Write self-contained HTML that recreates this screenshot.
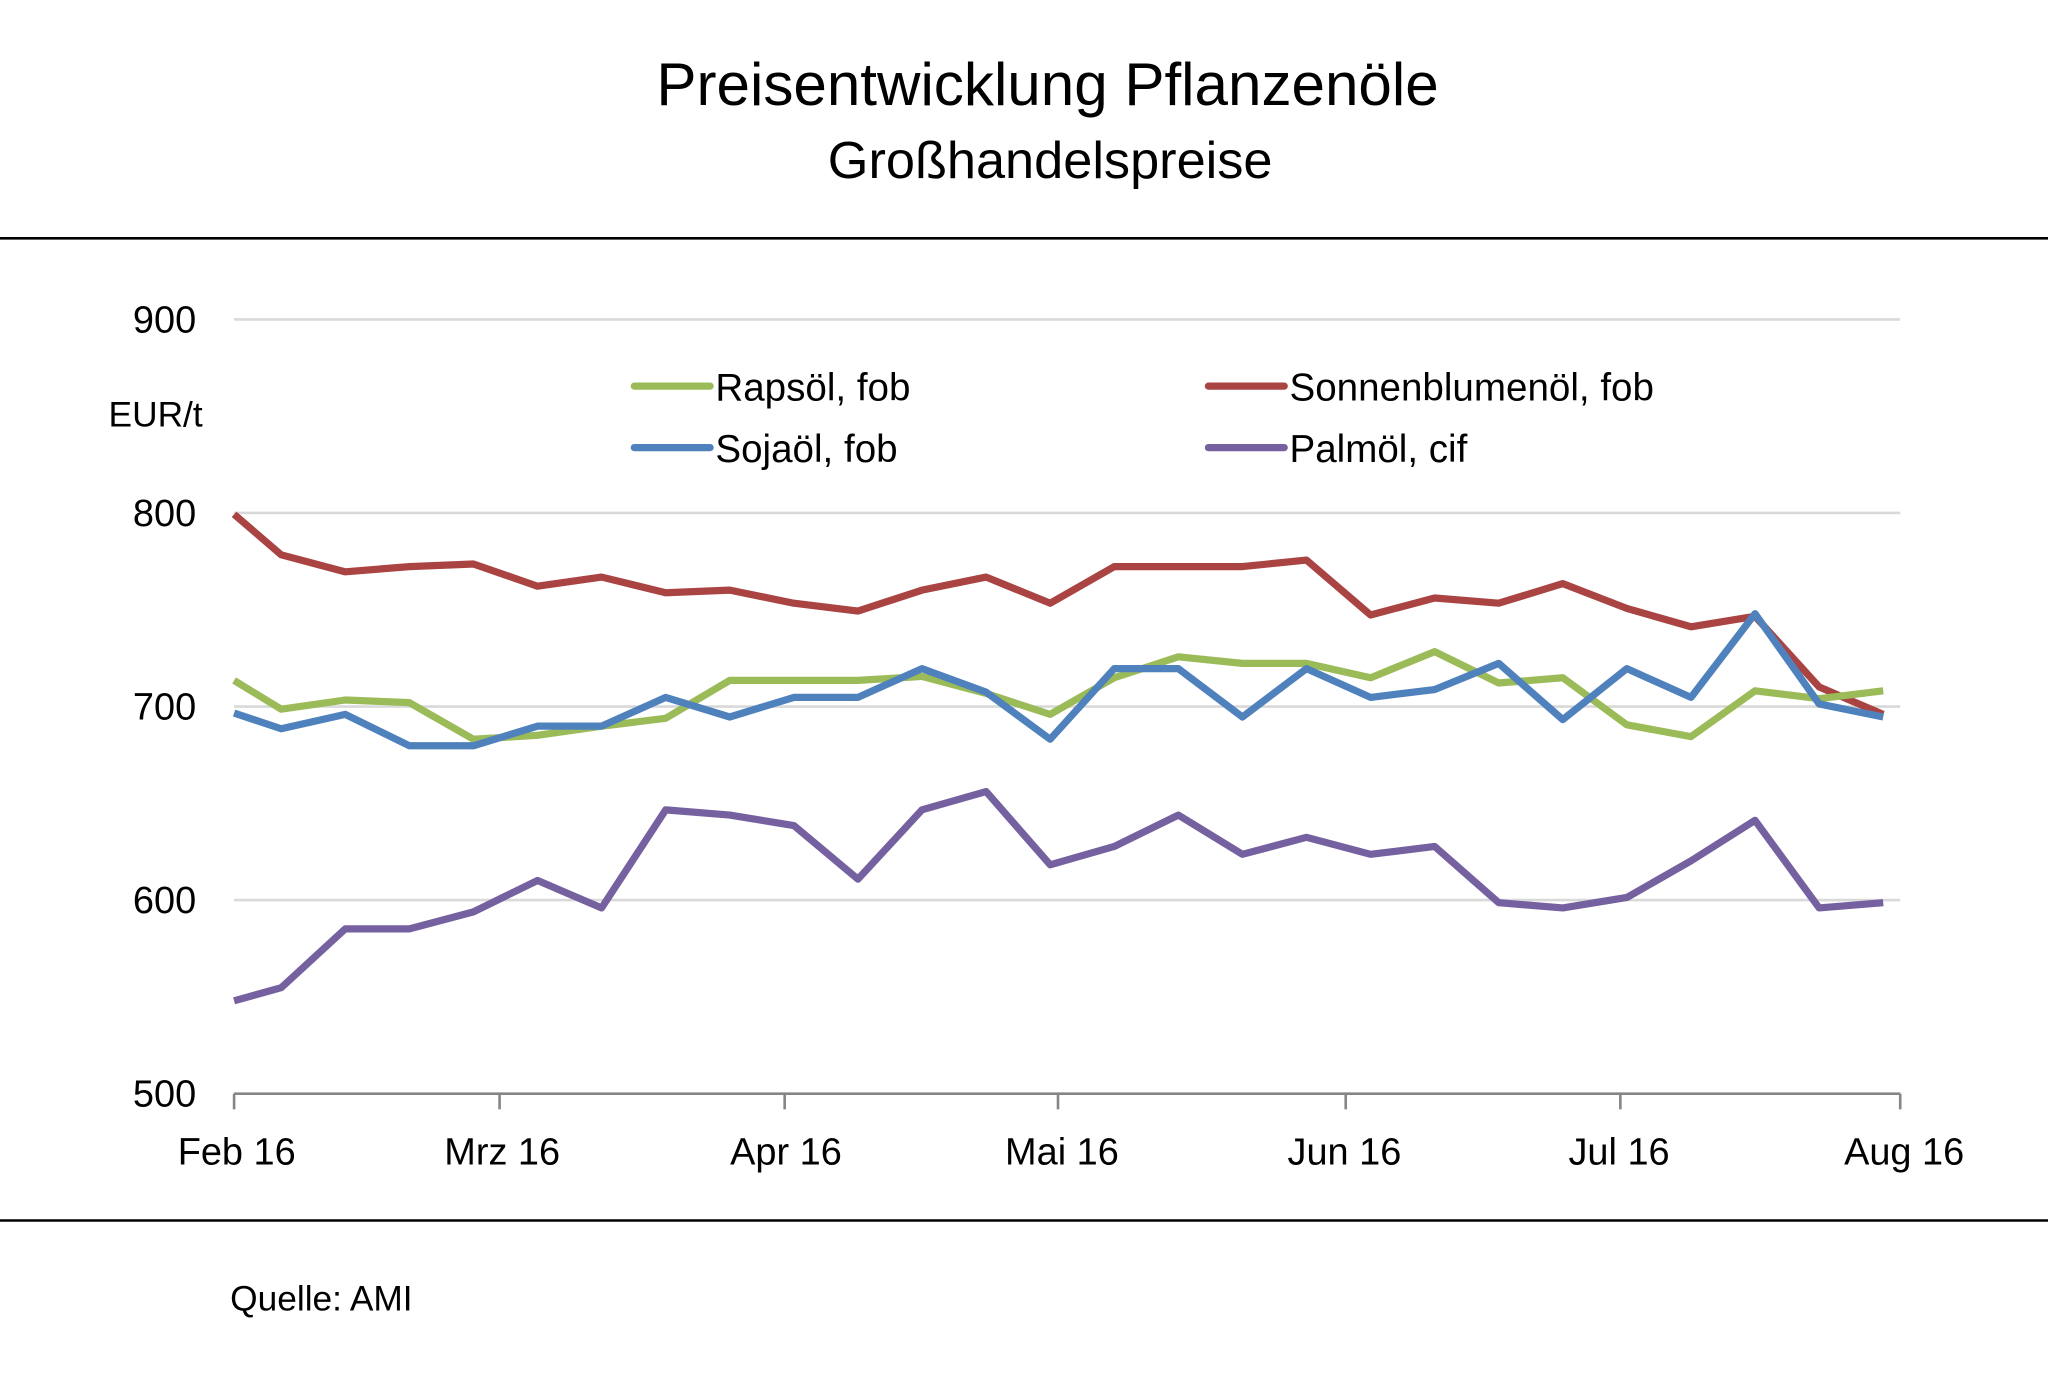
<!DOCTYPE html>
<html><head><meta charset="utf-8"><style>html,body{margin:0;padding:0;background:#fff}svg{display:block}text{font-family:"Liberation Sans",sans-serif;fill:#000}</style></head>
<body>
<svg width="2048" height="1400" viewBox="0 0 1566 1070" xmlns="http://www.w3.org/2000/svg">
<rect width="1566" height="1070" fill="#fff"/>
<text x="801" y="80" font-size="46" text-anchor="middle">Preisentwicklung Pflanzenöle</text>
<text x="803" y="136" font-size="40" text-anchor="middle">Großhandelspreise</text>
<line x1="0" y1="182" x2="1566" y2="182" stroke="#000" stroke-width="2"/>
<line x1="0" y1="933" x2="1566" y2="933" stroke="#000" stroke-width="2"/>
<g stroke="#d9d9d9" stroke-width="2">
<line x1="179" y1="244" x2="1453" y2="244"/><line x1="179" y1="392" x2="1453" y2="392"/><line x1="179" y1="540" x2="1453" y2="540"/><line x1="179" y1="688" x2="1453" y2="688"/>
</g>
<g stroke="#868686" stroke-width="2">
<line x1="179" y1="836" x2="1453" y2="836"/>
<line x1="179" y1="836" x2="179" y2="848"/><line x1="382" y1="836" x2="382" y2="848"/><line x1="600" y1="836" x2="600" y2="848"/><line x1="809" y1="836" x2="809" y2="848"/><line x1="1029" y1="836" x2="1029" y2="848"/><line x1="1239" y1="836" x2="1239" y2="848"/><line x1="1453" y1="836" x2="1453" y2="848"/>
</g>
<g font-size="29" text-anchor="end">
<text x="150" y="254">900</text><text x="150" y="402">800</text><text x="150" y="550">700</text><text x="150" y="698">600</text><text x="150" y="846">500</text>
</g>
<text x="83" y="326" font-size="27">EUR/t</text>
<g font-size="29" text-anchor="middle">
<text x="181" y="890">Feb 16</text><text x="384" y="890">Mrz 16</text><text x="601" y="890">Apr 16</text><text x="812" y="890">Mai 16</text><text x="1028" y="890">Jun 16</text><text x="1238" y="890">Jul 16</text><text x="1456" y="890">Aug 16</text>
</g>
<text x="176" y="1002" font-size="27">Quelle: AMI</text>
<g fill="none" stroke-width="5.5" stroke-linejoin="round">
<polyline stroke="#a94442" points="179,393 215,424 264,437 313,433 362,431 411,448 460,441 509,453 558,451 607,461 656,467 705,451 754,441 803,461 852,433 901,433 950,433 999,428 1048,470 1097,457 1146,461 1195,446 1244,465 1293,479 1342,471 1391,525 1440,546"/>
<polyline stroke="#9bbb59" points="179,520 215,542 264,535 313,537 362,565 411,562 460,555 509,549 558,520 607,520 656,520 705,517 754,530 803,546 852,518 901,502 950,507 999,507 1048,518 1097,498 1146,522 1195,518 1244,554 1293,563 1342,528 1391,534 1440,528"/>
<polyline stroke="#4f81bd" points="179,545 215,557 264,546 313,570 362,570 411,555 460,555 509,533 558,548 607,533 656,533 705,511 754,529 803,565 852,511 901,511 950,548 999,511 1048,533 1097,527 1146,507 1195,550 1244,511 1293,533 1342,469 1391,538 1440,548"/>
<polyline stroke="#7560a0" points="179,765 215,755 264,710 313,710 362,697 411,673 460,694 509,619 558,623 607,631 656,672 705,619 754,605 803,661 852,647 901,623 950,653 999,640 1048,653 1097,647 1146,690 1195,694 1244,686 1293,658 1342,627 1391,694 1440,690"/>
</g>
<g stroke-width="5.5" stroke-linecap="round">
<line x1="485" y1="295" x2="543" y2="295" stroke="#9bbb59"/>
<line x1="924" y1="295" x2="982" y2="295" stroke="#a94442"/>
<line x1="485" y1="342" x2="543" y2="342" stroke="#4f81bd"/>
<line x1="924" y1="342" x2="982" y2="342" stroke="#7560a0"/>
</g>
<g font-size="29.5">
<text x="547" y="306">Rapsöl, fob</text><text x="986" y="306">Sonnenblumenöl, fob</text>
<text x="547" y="353">Sojaöl, fob</text><text x="986" y="353">Palmöl, cif</text>
</g>
</svg>
</body></html>
